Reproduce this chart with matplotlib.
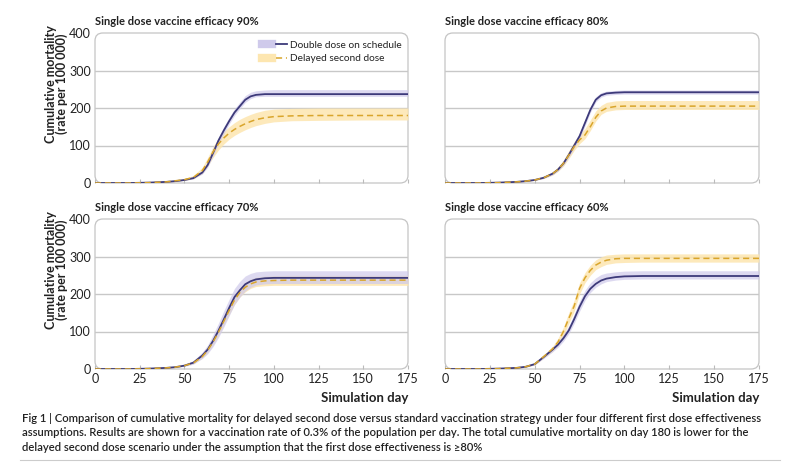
import matplotlib
matplotlib.use("Agg")
import matplotlib.pyplot as plt
from matplotlib.patches import FancyBboxPatch
from matplotlib.lines import Line2D
from matplotlib.legend_handler import HandlerTuple

plt.rcParams['font.family'] = ['Lato', 'DejaVu Sans']

days = [0, 10, 20, 30, 40, 45, 50, 55, 60, 63, 66, 69, 72, 75, 78, 81, 84, 87, 90, 95, 100, 110, 125, 150, 175]

# Efficacy 90%
dd90    = [0, 0, 0, 1, 3, 5, 8, 13, 28, 48, 80, 113, 140, 165, 188, 205, 222, 231, 235, 237, 237, 237, 237, 237, 237]
dd90_lo = [0, 0, 0, 1, 2, 4, 7, 11, 24, 42, 72, 104, 131, 157, 180, 198, 215, 225, 230, 231, 231, 231, 231, 231, 231]
dd90_hi = [0, 0, 0, 1, 4, 6, 10, 16, 33, 55, 88, 122, 150, 175, 198, 216, 233, 242, 246, 248, 249, 249, 249, 249, 249]
ds90    = [0, 0, 0, 1, 3, 6, 9, 15, 33, 56, 83, 104, 120, 133, 143, 151, 158, 164, 169, 174, 177, 179, 180, 180, 180]
ds90_lo = [0, 0, 0, 1, 2, 4, 7, 11, 25, 45, 68, 88, 104, 117, 127, 135, 142, 148, 153, 159, 163, 166, 167, 168, 168]
ds90_hi = [0, 0, 0, 1, 4, 8, 12, 20, 42, 68, 97, 120, 137, 150, 161, 170, 177, 183, 188, 194, 197, 199, 200, 200, 200]

# Efficacy 80%
dd80    = [0, 0, 0, 1, 3, 5, 8, 14, 25, 36, 52, 75, 100, 125, 160, 195, 222, 234, 239, 241, 242, 242, 242, 242, 242]
dd80_lo = [0, 0, 0, 1, 2, 4, 7, 12, 22, 32, 47, 69, 93, 118, 152, 188, 216, 229, 234, 236, 237, 237, 237, 237, 237]
dd80_hi = [0, 0, 0, 1, 4, 6, 10, 16, 29, 41, 58, 82, 108, 134, 170, 204, 230, 241, 245, 247, 248, 248, 248, 248, 248]
ds80    = [0, 0, 0, 1, 3, 5, 8, 14, 25, 36, 52, 74, 97, 115, 128, 150, 175, 192, 200, 204, 205, 205, 205, 205, 205]
ds80_lo = [0, 0, 0, 1, 2, 4, 7, 12, 21, 31, 45, 65, 87, 105, 118, 140, 165, 183, 191, 195, 196, 196, 196, 196, 196]
ds80_hi = [0, 0, 0, 1, 4, 7, 10, 17, 30, 43, 61, 86, 110, 130, 145, 168, 192, 207, 215, 219, 220, 220, 220, 220, 220]

# Efficacy 70%
dd70    = [0, 0, 0, 1, 3, 5, 9, 17, 36, 52, 75, 102, 132, 163, 192, 210, 226, 234, 239, 242, 243, 243, 243, 243, 243]
dd70_lo = [0, 0, 0, 1, 2, 4, 7, 13, 28, 41, 60, 84, 112, 142, 172, 192, 208, 218, 224, 227, 228, 228, 228, 228, 228]
dd70_hi = [0, 0, 0, 1, 4, 7, 12, 22, 45, 64, 92, 122, 155, 186, 215, 234, 248, 255, 259, 261, 262, 262, 262, 262, 262]
ds70    = [0, 0, 0, 1, 3, 5, 9, 16, 33, 50, 72, 98, 127, 156, 184, 204, 218, 227, 232, 235, 236, 237, 237, 237, 237]
ds70_lo = [0, 0, 0, 1, 2, 4, 8, 14, 29, 44, 64, 89, 117, 145, 172, 192, 206, 215, 220, 222, 223, 223, 223, 223, 223]
ds70_hi = [0, 0, 0, 1, 4, 6, 10, 19, 38, 57, 81, 108, 138, 168, 196, 216, 231, 240, 245, 248, 249, 250, 250, 250, 250]

# Efficacy 60%
dd60    = [0, 0, 0, 1, 3, 6, 13, 32, 52, 65, 82, 103, 133, 166, 194, 214, 227, 236, 241, 245, 247, 248, 248, 248, 248]
dd60_lo = [0, 0, 0, 1, 2, 5, 11, 28, 46, 58, 74, 94, 122, 154, 183, 204, 218, 227, 233, 237, 239, 240, 240, 240, 240]
dd60_hi = [0, 0, 0, 1, 4, 7, 15, 36, 58, 73, 92, 115, 147, 181, 210, 230, 243, 252, 256, 259, 261, 262, 262, 262, 262]
ds60    = [0, 0, 0, 1, 3, 6, 13, 33, 54, 72, 100, 135, 168, 215, 243, 263, 277, 285, 290, 294, 295, 295, 295, 295, 295]
ds60_lo = [0, 0, 0, 1, 2, 5, 11, 29, 47, 63, 89, 122, 154, 200, 230, 250, 265, 273, 279, 283, 284, 285, 285, 285, 285]
ds60_hi = [0, 0, 0, 1, 4, 7, 15, 37, 61, 82, 112, 150, 184, 230, 257, 277, 291, 299, 304, 306, 307, 307, 307, 307, 307]

titles = ["Single dose vaccine efficacy 90%", "Single dose vaccine efficacy 80%",
          "Single dose vaccine efficacy 70%", "Single dose vaccine efficacy 60%"]
series_labels = ["Double dose on schedule", "Delayed second dose"]
x_ticks = [0, 25, 50, 75, 100, 125, 150, 175]
y_ticks = [0, 100, 200, 300, 400]

panels = [
    (dd90, dd90_lo, dd90_hi, ds90, ds90_lo, ds90_hi),
    (dd80, dd80_lo, dd80_hi, ds80, ds80_lo, ds80_hi),
    (dd70, dd70_lo, dd70_hi, ds70, ds70_lo, ds70_hi),
    (dd60, dd60_lo, dd60_hi, ds60, ds60_lo, ds60_hi),
]

C_DD = "#3d3a7a"
C_DD_BAND = "#cfcaeb"
C_DS = "#d9a52b"
C_DS_BAND = "#fde6b0"
GRID = "#c8c8c8"
TXT = "#222222"

fig = plt.figure(figsize=(8, 4.63), dpi=100)
W, H = 800, 463
boxes = [(95, 33, 408, 183), (445, 33, 759, 183), (95, 219, 408, 369), (445, 219, 759, 369)]

for i, (box, data) in enumerate(zip(boxes, panels)):
    x0, y0, x1, y1 = box
    ax = fig.add_axes([x0 / W, 1 - y1 / H, (x1 - x0) / W, (y1 - y0) / H])
    dd, ddlo, ddhi, ds, dslo, dshi = data
    ax.fill_between(days, dslo, dshi, color=C_DS_BAND, lw=0, zorder=2, alpha=0.85)
    ax.fill_between(days, ddlo, ddhi, color=C_DD_BAND, lw=0, zorder=2, alpha=0.7)
    ax.plot(days, ds, color=C_DS, lw=1.1, ls=(0, (4, 2.5)), zorder=4)
    ax.plot(days, dd, color=C_DD, lw=1.3, zorder=3)
    ax.set_xlim(0, 175)
    ax.set_ylim(0, 400)
    for s in ax.spines.values():
        s.set_visible(False)
    frame = FancyBboxPatch((0, 0), 1, 1, boxstyle="round,pad=0,rounding_size=0.025",
                           transform=ax.transAxes, fill=False, ec="#c4c4c4", lw=0.9,
                           clip_on=False, zorder=1, mutation_aspect=(x1 - x0) / (y1 - y0))
    ax.add_patch(frame)
    for g in [100, 200, 300]:
        ax.axhline(g, color=GRID, lw=1.0, zorder=1)
    ax.set_xticks(x_ticks)
    ax.set_yticks(y_ticks)
    ax.tick_params(axis='x', direction='in', length=3, color="#bbbbbb", labelsize=9,
                   labelcolor=TXT, pad=3)
    ax.tick_params(axis='y', length=0, labelsize=9, labelcolor=TXT, pad=3)
    if i < 2:
        ax.tick_params(axis='x', labelbottom=False)
    else:
        ax.set_xlabel("Simulation day", fontsize=9.5, fontweight='bold', color=TXT)
        ax.xaxis.set_label_coords(1.0, -0.155)
        ax.xaxis.label.set_horizontalalignment('right')
    if i % 2 == 1:
        ax.tick_params(axis='y', labelleft=False)
    else:
        ax.set_ylabel("Cumulative mortality\n(rate per 100 000)", fontsize=9,
                      fontweight='bold', color=TXT, linespacing=0.9)
        ax.yaxis.set_label_coords(-0.085, 0.66)
    ax.text(0, 1.04, titles[i], transform=ax.transAxes, fontsize=8, fontweight='bold',
            color=TXT, ha='left', va='bottom')
    if i == 0:
        h1 = (Line2D([], [], color=C_DD_BAND, lw=6), Line2D([], [], color=C_DD, lw=1.3))
        h2 = (Line2D([], [], color=C_DS_BAND, lw=6), Line2D([], [], color=C_DS, lw=1.1, ls=(0, (4, 2.5))))
        ax.legend([h1, h2], series_labels, handler_map={tuple: HandlerTuple(ndivide=None)},
                  loc='upper left', bbox_to_anchor=(0.505, 1.01), frameon=False,
                  fontsize=7.3, handlelength=2.4, handletextpad=0.35, labelspacing=0.45,
                  labelcolor=TXT)

caption = ("Fig 1 | Comparison of cumulative mortality for delayed second dose versus standard vaccination strategy under four different first dose effectiveness\n"
           "assumptions. Results are shown for a vaccination rate of 0.3% of the population per day. The total cumulative mortality on day 180 is lower for the\n"
           "delayed second dose scenario under the assumption that the first dose effectiveness is \u226580%")
fig.text(22 / W, 1 - 413 / H, caption, ha='left', va='top', fontsize=8.15, fontweight='semibold',
         color=TXT, linespacing=1.38)
fig.add_artist(Line2D([20 / W, 780 / W], [1 - 460 / H, 1 - 460 / H], color="#cccccc", lw=0.8))

fig.savefig("out.png", dpi=100)
